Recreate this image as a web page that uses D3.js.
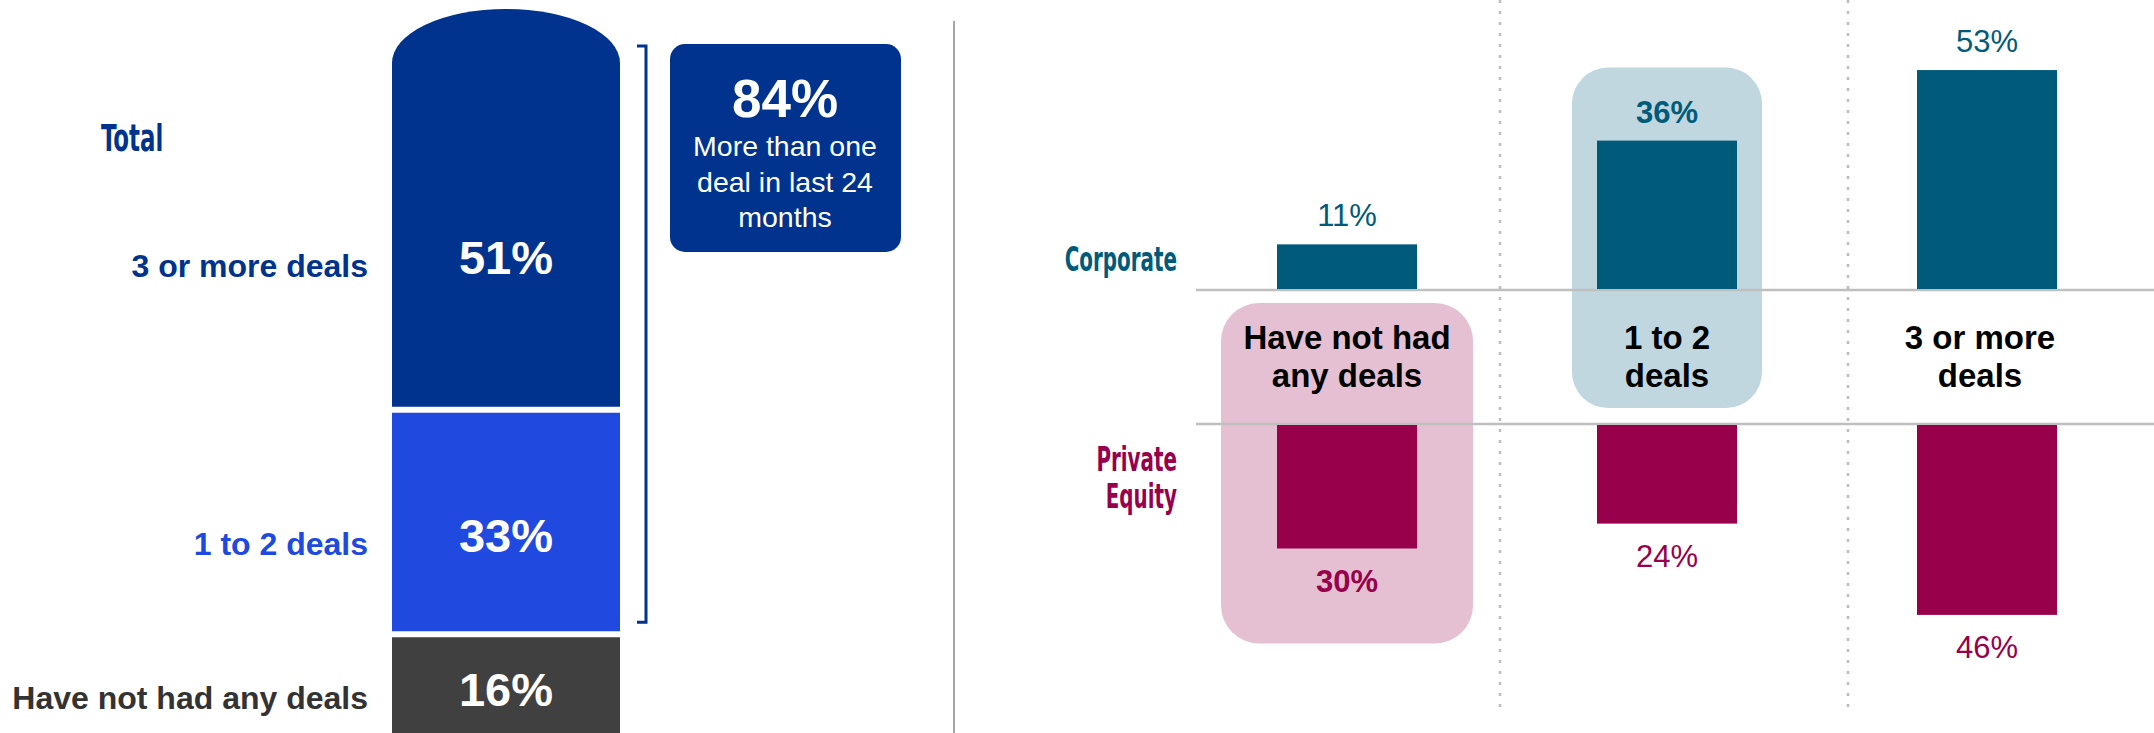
<!DOCTYPE html>
<html>
<head>
<meta charset="utf-8">
<script src="https://cdn.jsdelivr.net/npm/d3@7"></script>
<style>
  html, body { margin: 0; padding: 0; background: #ffffff; }
  svg { display: block; }
  text { font-family: "Liberation Sans", Arial, Helvetica, sans-serif; }
  .narrow { font-family: "DejaVu Sans Condensed", "DejaVu Sans", sans-serif; font-weight: bold; }
</style>
</head>
<body>
<svg id="chart" width="2154" height="733"></svg>
<script>
// ---- Data -------------------------------------------------------------
// Share of all respondents by number of deals (bottom to top of the stack)
const totalCategories = ["Have not had any deals", "1 to 2 deals", "3 or more deals"];
const totalShares = [16, 33, 51];
const totalRowColors = ["#333333", "#2049E0", "#00338D"];
const totalFillColors = ["#404040", "#2049E0", "#00338D"];

// Call-out: more than one deal in the last 24 months
const calloutValue = 84;
const calloutLines = ["More than one", "deal in last 24", "months"];

// Split by respondent type
const dealCategories = ["Have not had any deals", "1 to 2 deals", "3 or more deals"];
const dealCategoryLines = [["Have not had", "any deals"], ["1 to 2", "deals"], ["3 or more", "deals"]];
const corporateShares = [11, 36, 53];
const privateEquityShares = [30, 24, 46];
const corporateHighlight = "1 to 2 deals";
const privateEquityHighlight = "Have not had any deals";

// ---- Palette ----------------------------------------------------------
const navy = "#00338D";
const teal = "#005B7B";
const plum = "#98004C";
const tealSoft = "#C0D7E0";
const plumSoft = "#E5C0D2";
const rule = "#BFBFBF";

const svg = d3.select("#chart");
const fmt = v => v + "%";

// Condensed headings: squeeze rendered glyphs horizontally
function squeeze(sel, k) {
  sel.each(function () {
    const w = this.getComputedTextLength();
    d3.select(this).attr("textLength", w * k).attr("lengthAdjust", "spacingAndGlyphs");
  });
}
const squeezeK = 0.67;

// ---- Left panel: stacked total column ---------------------------------
const stackX0 = 392, stackX1 = 620;
const yTotal = d3.scaleLinear().domain([0, 100]).range([743, 63]);
const gap = 3;

let cum = 0;
const segments = totalShares.map((v, i) => {
  const s = { key: totalCategories[i], value: v, start: cum, end: cum + v, i };
  cum += v;
  return s;
});

const left = svg.append("g");

left.selectAll("path.seg")
  .data(segments)
  .join("path")
  .attr("class", "seg")
  .attr("fill", d => totalFillColors[d.i])
  .attr("d", d => {
    const yb = yTotal(d.start) - (d.start > 0 ? gap : 0);
    const yt = yTotal(d.end) + (d.end < 100 ? gap : 0);
    if (d.end >= 100) {
      // rounded cap on the top of the column
      const rx = (stackX1 - stackX0) / 2, ry = 54;
      return `M${stackX0},${yb}L${stackX0},${yt}A${rx},${ry} 0 0 1 ${stackX1},${yt}L${stackX1},${yb}Z`;
    }
    return `M${stackX0},${yb}L${stackX0},${yt}L${stackX1},${yt}L${stackX1},${yb}Z`;
  });

const labelY = d => yTotal(d.start + d.value * (d.start === 0 ? 0.5 : 0.44));

left.selectAll("text.val")
  .data(segments)
  .join("text")
  .attr("class", "val")
  .attr("x", (stackX0 + stackX1) / 2)
  .attr("y", d => labelY(d) + 17)
  .attr("text-anchor", "middle")
  .attr("fill", "#ffffff")
  .attr("font-weight", "bold")
  .attr("font-size", 47)
  .text(d => fmt(d.value));

left.selectAll("text.row")
  .data(segments)
  .join("text")
  .attr("class", "row")
  .attr("x", 368)
  .attr("y", d => labelY(d) + 20)
  .attr("text-anchor", "end")
  .attr("fill", d => totalRowColors[d.i])
  .attr("font-weight", "bold")
  .attr("font-size", 32)
  .text(d => d.key);

left.append("text")
  .attr("class", "narrow")
  .attr("x", 101)
  .attr("y", 151)
  .attr("fill", navy)
  .attr("font-size", 38)
  .text("Total")
  .call(squeeze, squeezeK);

// Bracket spanning the segments that add up to the call-out value
const bracketTop = yTotal(100) - 17;
const bracketBottom = yTotal(100 - calloutValue) - 12;
left.append("path")
  .attr("d", `M637,${bracketTop}H646V${bracketBottom}H637`)
  .attr("fill", "none")
  .attr("stroke", navy)
  .attr("stroke-width", 3);

// Call-out box
const callout = left.append("g");
callout.append("rect")
  .attr("x", 670).attr("y", 44)
  .attr("width", 231).attr("height", 208)
  .attr("rx", 15)
  .attr("fill", navy);
callout.append("text")
  .attr("x", 785).attr("y", 117)
  .attr("text-anchor", "middle")
  .attr("fill", "#ffffff")
  .attr("font-weight", "bold")
  .attr("font-size", 53)
  .text(fmt(calloutValue));
callout.selectAll("text.line")
  .data(calloutLines)
  .join("text")
  .attr("class", "line")
  .attr("x", 785)
  .attr("y", (d, i) => 156 + i * 35.5)
  .attr("text-anchor", "middle")
  .attr("fill", "#ffffff")
  .attr("font-size", 28.5)
  .text(d => d);

// Panel divider
svg.append("line")
  .attr("x1", 954).attr("x2", 954)
  .attr("y1", 21).attr("y2", 733)
  .attr("stroke", "#A6A6A6")
  .attr("stroke-width", 2);

// ---- Right panel: corporate vs private equity -------------------------
const right = svg.append("g");
const x = d3.scalePoint().domain(dealCategories).range([1347, 1987]);
const barW = 140;
const corpBase = 290, peBase = 424;
const yCorp = d3.scaleLinear().domain([0, 100]).range([corpBase, corpBase - 415]);
const yPE = d3.scaleLinear().domain([0, 100]).range([peBase, peBase + 415]);

// Dotted column separators
right.selectAll("line.sep")
  .data([1500, 1848])
  .join("line")
  .attr("class", "sep")
  .attr("x1", d => d).attr("x2", d => d)
  .attr("y1", 0).attr("y2", 713)
  .attr("stroke", "#BDBDBD")
  .attr("stroke-width", 2.5)
  .attr("stroke-dasharray", "3 8");

// Highlight panels behind selected bars
const corpIdx = dealCategories.indexOf(corporateHighlight);
const peIdx = dealCategories.indexOf(privateEquityHighlight);

right.append("rect")
  .attr("x", x(corporateHighlight) - 95)
  .attr("y", yCorp(corporateShares[corpIdx]) - 73)
  .attr("width", 190)
  .attr("height", (peBase - 16) - (yCorp(corporateShares[corpIdx]) - 73))
  .attr("rx", 36)
  .attr("fill", tealSoft);

right.append("rect")
  .attr("x", x(privateEquityHighlight) - 126)
  .attr("y", corpBase + 13)
  .attr("width", 252)
  .attr("height", (yPE(privateEquityShares[peIdx]) + 95) - (corpBase + 13))
  .attr("rx", 38)
  .attr("fill", plumSoft);

// Baselines
right.selectAll("line.base")
  .data([corpBase, peBase])
  .join("line")
  .attr("class", "base")
  .attr("x1", 1196).attr("x2", 2154)
  .attr("y1", d => d).attr("y2", d => d)
  .attr("stroke", rule)
  .attr("stroke-width", 2.5);

// Corporate bars (upwards)
right.selectAll("rect.corp")
  .data(dealCategories)
  .join("rect")
  .attr("class", "corp")
  .attr("x", d => x(d) - barW / 2)
  .attr("width", barW)
  .attr("y", (d, i) => yCorp(corporateShares[i]))
  .attr("height", (d, i) => corpBase - yCorp(corporateShares[i]) - 1)
  .attr("fill", teal);

right.selectAll("text.corpVal")
  .data(dealCategories)
  .join("text")
  .attr("class", "corpVal")
  .attr("x", d => x(d))
  .attr("y", (d, i) => yCorp(corporateShares[i]) - 18)
  .attr("text-anchor", "middle")
  .attr("fill", teal)
  .attr("font-size", 31)
  .attr("font-weight", d => d === corporateHighlight ? "bold" : "normal")
  .text((d, i) => fmt(corporateShares[i]));

// Private equity bars (downwards)
right.selectAll("rect.pe")
  .data(dealCategories)
  .join("rect")
  .attr("class", "pe")
  .attr("x", d => x(d) - barW / 2)
  .attr("width", barW)
  .attr("y", peBase + 1)
  .attr("height", (d, i) => yPE(privateEquityShares[i]) - peBase - 1)
  .attr("fill", plum);

right.selectAll("text.peVal")
  .data(dealCategories)
  .join("text")
  .attr("class", "peVal")
  .attr("x", d => x(d))
  .attr("y", (d, i) => yPE(privateEquityShares[i]) + 43)
  .attr("text-anchor", "middle")
  .attr("fill", plum)
  .attr("font-size", 31)
  .attr("font-weight", d => d === privateEquityHighlight ? "bold" : "normal")
  .text((d, i) => fmt(privateEquityShares[i]));

// Category labels between the two baselines
right.selectAll("text.cat")
  .data(dealCategories)
  .join("text")
  .attr("class", "cat")
  .attr("x", d => x(d) - (d === "3 or more deals" ? 7 : 0))
  .attr("y", 349)
  .attr("text-anchor", "middle")
  .attr("fill", "#000000")
  .attr("font-weight", "bold")
  .attr("font-size", 33)
  .selectAll("tspan")
  .data((d, i) => dealCategoryLines[i])
  .join("tspan")
  .attr("x", function () { return d3.select(this.parentNode).attr("x"); })
  .attr("dy", (d, i) => i === 0 ? 0 : 38)
  .text(d => d);

// Series labels
right.append("text")
  .attr("class", "narrow")
  .attr("x", 1177).attr("y", corpBase - 19)
  .attr("text-anchor", "end")
  .attr("fill", teal)
  .attr("font-size", 33)
  .text("Corporate")
  .call(squeeze, squeezeK);

right.selectAll("text.peName")
  .data(["Private", "Equity"])
  .join("text")
  .attr("class", "narrow peName")
  .attr("x", 1177)
  .attr("y", (d, i) => peBase + 47 + i * 37)
  .attr("text-anchor", "end")
  .attr("fill", plum)
  .attr("font-size", 33)
  .text(d => d)
  .call(squeeze, squeezeK);
</script>
</body>
</html>
